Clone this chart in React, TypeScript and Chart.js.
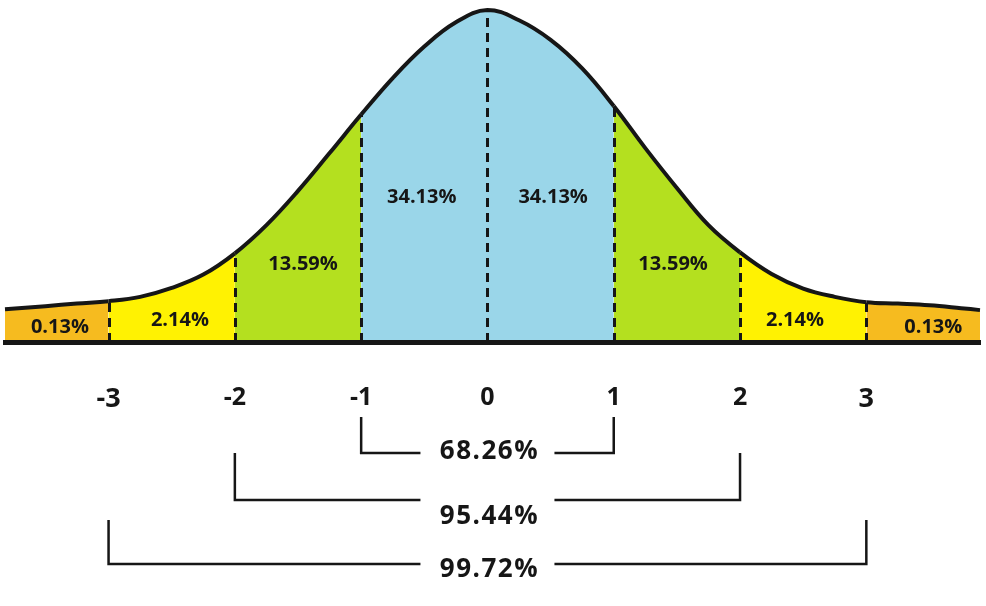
import React, { useEffect, useRef } from 'react';
import { Chart, registerables } from 'chart.js';

Chart.register(...registerables);

// Curve: position in standard deviations and height (peak = 100)
const sigma = [-3.82, -3.5, -3.25, -3, -2.75, -2.5, -2.25, -2, -1.75, -1.5, -1.25, -1, -0.75, -0.5, -0.25, 0, 0.25, 0.5, 0.75, 1, 1.25, 1.5, 1.75, 2, 2.25, 2.5, 2.75, 3, 3.25, 3.5, 3.75, 3.9];
const height = [9.9, 10.8, 11.6, 12.3, 13.6, 16.3, 20.3, 26.7, 35.2, 45.5, 56.9, 68.5, 79.5, 89.0, 96.3, 100, 96.9, 91.0, 82.4, 71.1, 58.4, 46.4, 35.2, 27.0, 20.5, 16.1, 13.6, 12.0, 11.6, 11.1, 10.2, 9.6];

// Axis ticks
const tickValues = [-3, -2, -1, 0, 1, 2, 3];
const tickLabels = ['-3', '-2', '-1', '0', '1', '2', '3'];

// Dashed dividers
const dividers = [-3, -2, -1, 0, 1, 2, 3];

// Area percentages with their anchor (sigma, height)
const areaLabels = ['0.13%', '2.14%', '13.59%', '34.13%', '34.13%', '13.59%', '2.14%', '0.13%'];
const areaLabelX = [-3.385, -2.435, -1.46, -0.52, 0.52, 1.47, 2.435, 3.53];
const areaLabelY = [4.5, 6.6, 23.5, 43.7, 43.7, 23.5, 6.6, 4.5];

// Brackets
const spanSigma = [1, 2, 3];
const spanLabels = ['68.26%', '95.44%', '99.72%'];

// Styles
const COLORS = { tail: '#F6BB1F', yellow: '#FFF202', green: '#B4E01F', blue: '#9AD6E9' };
const INK = '#161616';
const FONT = '"Open Sans"';
// bracket geometry (pixels below the baseline)
const bracketTop = [75, 111, 178];
const bracketLine = [111, 158, 222];
const bracketText = [110, 175, 228];
const bracketGap = 67;

function bandColor(x: number) {
  const a = Math.abs(x);
  if (a > 3) return COLORS.tail;
  if (a > 2) return COLORS.yellow;
  if (a > 1) return COLORS.green;
  return COLORS.blue;
}

const overlay = {
  id: 'overlay',
  afterDatasetsDraw(chart: any) {
    const { ctx, chartArea, scales } = chart;
    const xs = scales.x;
    const ys = scales.y;
    const base = chartArea.bottom;
    ctx.save();
    ctx.strokeStyle = INK;
    ctx.lineWidth = 3;
    ctx.setLineDash([9, 6]);
    dividers.forEach((d) => {
      const i = sigma.indexOf(d);
      const px = Math.round(xs.getPixelForValue(d)) + 0.5;
      const py = ys.getPixelForValue(height[i]);
      ctx.beginPath();
      ctx.moveTo(px, base);
      ctx.lineTo(px, py);
      ctx.stroke();
    });
    ctx.setLineDash([]);
    const meta = chart.getDatasetMeta(0);
    if (meta && meta.dataset) {
      meta.dataset.draw(ctx, chartArea);
    }
    ctx.fillStyle = INK;
    ctx.font = `bold 20px ${FONT}`;
    ctx.textAlign = 'center';
    ctx.textBaseline = 'middle';
    areaLabels.forEach((t, i) => {
      ctx.fillText(t, xs.getPixelForValue(areaLabelX[i]), ys.getPixelForValue(areaLabelY[i]));
    });
    ctx.restore();
  },
  afterDraw(chart: any) {
    const { ctx, chartArea, scales } = chart;
    const xs = scales.x;
    const base = chartArea.bottom;
    const cx = xs.getPixelForValue(0);
    ctx.save();
    ctx.strokeStyle = INK;
    ctx.lineWidth = 2.5;
    spanSigma.forEach((s, i) => {
      const l = xs.getPixelForValue(-s);
      const r = xs.getPixelForValue(s);
      const top = base + bracketTop[i];
      const ly = base + bracketLine[i];
      ctx.beginPath();
      ctx.moveTo(l, top);
      ctx.lineTo(l, ly);
      ctx.lineTo(cx - bracketGap, ly);
      ctx.moveTo(cx + bracketGap, ly);
      ctx.lineTo(r, ly);
      ctx.lineTo(r, top);
      ctx.stroke();
    });
    ctx.fillStyle = INK;
    ctx.font = `bold 26px ${FONT}`;
    (ctx as any).letterSpacing = '1.5px';
    ctx.textAlign = 'center';
    ctx.textBaseline = 'middle';
    spanLabels.forEach((t, i) => {
      ctx.fillText(t, cx + 2, base + bracketText[i]);
    });
    ctx.restore();
  },
};

export default function App() {
  const ref = useRef<HTMLCanvasElement | null>(null);
  useEffect(() => {
    if (!ref.current) return;
    const chart = new Chart(ref.current, {
      type: 'line',
      data: {
        datasets: [
          {
            data: sigma.map((s, i) => ({ x: s, y: height[i] })),
            borderColor: INK,
            borderWidth: 4,
            pointRadius: 0,
            fill: 'origin',
            backgroundColor: COLORS.blue,
            tension: 0.4,
            clip: false as any,
            segment: {
              backgroundColor: (c: any) => bandColor((c.p0.parsed.x + c.p1.parsed.x) / 2),
            },
          } as any,
        ],
      },
      options: {
        responsive: false,
        animation: false,
        devicePixelRatio: 1,
        layout: { padding: { left: 5, right: 6, top: 10, bottom: 0 } },
        plugins: { legend: { display: false }, tooltip: { enabled: false } },
        scales: {
          x: {
            type: 'linear',
            min: -3.82,
            max: 3.9,
            grid: { display: false },
            border: { display: true, color: INK, width: 5, z: 2 } as any,
            afterBuildTicks: (s: any) => {
              s.ticks = tickValues.map((v) => ({ value: v }));
            },
            afterFit: (s: any) => {
              s.height = 264;
            },
            ticks: {
              padding: 33,
              color: INK,
              autoSkip: false,
              maxRotation: 0,
              callback: (v: any) => {
                const i = tickValues.indexOf(Number(v));
                return i >= 0 ? tickLabels[i] : '';
              },
              font: (c: any) => ({
                family: 'Open Sans',
                weight: 'bold',
                size: c.tick && Math.abs(c.tick.value) === 3 ? 27 : 25,
              }),
            },
          },
          y: { display: false, min: 0, max: 100 },
        },
      },
      plugins: [overlay],
    });
    return () => chart.destroy();
  }, []);
  return (
    <div style={{ position: 'absolute', left: 0, top: 0, width: 986, height: 606, background: '#fff' }}>
      <canvas ref={ref} width={986} height={606} style={{ display: 'block' }} />
    </div>
  );
}
